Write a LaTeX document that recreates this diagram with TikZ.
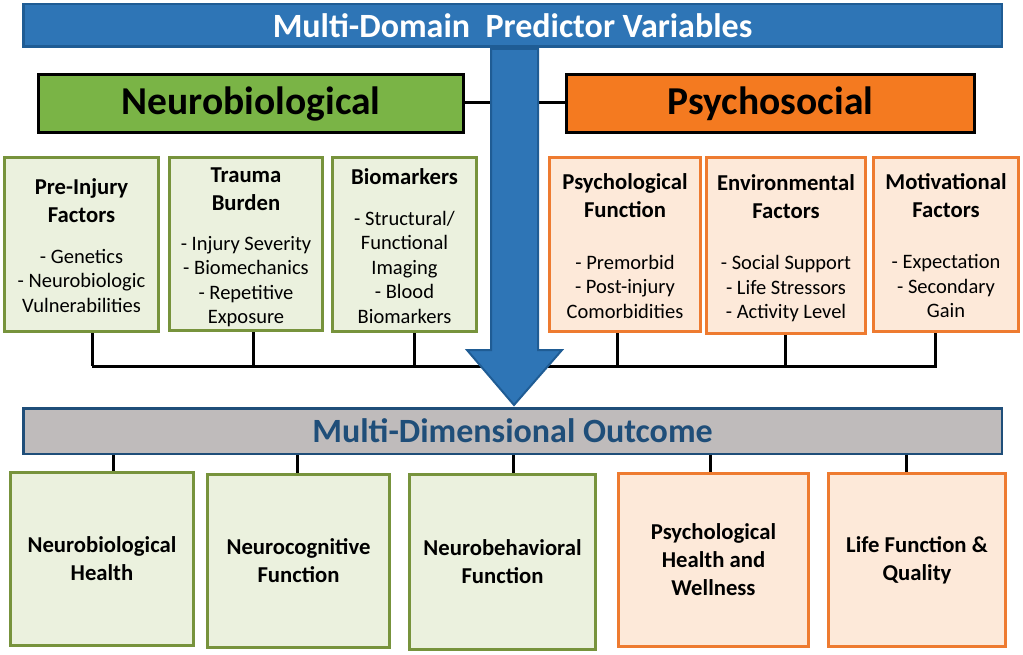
\documentclass[tikz,border=0pt]{standalone}
\usepackage{fontspec}
\setmainfont{Carlito}
\definecolor{bannerblue}{HTML}{2E75B6}
\definecolor{bannerdark}{HTML}{1F5C94}
\definecolor{neurogreen}{HTML}{7AB446}
\definecolor{psychorange}{HTML}{F47A20}
\definecolor{lightgreen}{HTML}{EBF1DE}
\definecolor{greenborder}{HTML}{77933C}
\definecolor{lightorange}{HTML}{FDE9D9}
\definecolor{orangeborder}{HTML}{EE7B30}
\definecolor{outgray}{HTML}{BFBBBB}
\definecolor{outblue}{HTML}{1F4E79}
\tikzset{
  bannerbox/.style={draw=bannerdark, line width=2.5pt, fill=bannerblue, text=white, inner sep=0pt, font=\bfseries\fontsize{34}{36}\selectfont},
  dombox/.style={draw=black, line width=3pt, text=black, inner sep=0pt, font=\bfseries\fontsize{39.5}{42}\selectfont},
  nsub/.style={draw=greenborder, line width=3pt, fill=lightgreen, inner sep=0pt},
  psub/.style={draw=orangeborder, line width=3pt, fill=lightorange, inner sep=0pt},
  subtext/.style={align=center, inner sep=0pt, font=\fontsize{20.5}{24.5}\selectfont},
  linkline/.style={draw=black, line width=3pt},
  outbar/.style={draw=outblue, line width=2.5pt, fill=outgray, text=outblue, inner sep=0pt, font=\bfseries\fontsize{34}{36}\selectfont},
  outbox/.style={align=center, line width=3pt, font=\bfseries\fontsize{22.7}{28}\selectfont},
}
\newcommand{\subttl}[1]{\fontsize{22.7}{24.5}\selectfont\bfseries #1}
\begin{document}
\begin{tikzpicture}[x=1pt,y=-1pt]
\useasboundingbox (0,0) rectangle (1023,655);
% banner
\node[bannerbox, minimum width=978.5pt, minimum height=42.5pt] (top) at (512.5,25.5) {Multi-Domain\ \ Predictor Variables};
% connector lines behind arrow
\draw[linkline] (92,366) -- (937,366);
\draw[linkline] (465,103) -- (565,103);
% domain boxes
\node[dombox, fill=neurogreen, minimum width=425pt, minimum height=58pt] (neuro) at (251,103.5) {Neurobiological};
\node[dombox, fill=psychorange, minimum width=408pt, minimum height=58pt] (psycho) at (770.5,103.5) {Psychosocial};
% arrow
\draw[draw=bannerdark, line width=2pt, fill=bannerblue, line join=miter]
  (491,49) -- (538,49) -- (538,350) -- (562,350) -- (514,405) -- (467,350) -- (491,350) -- cycle;
% neuro sub boxes
\node[nsub, minimum width=154pt, minimum height=174pt] (pre) at (81.5,244.5) {};
\node[subtext] (pretxt) at ([yshift=-4pt]pre.center)
  {\begin{tabular}{@{}c@{}}\subttl{Pre-Injury}\\[3.5pt]\subttl{Factors}\\[16.5pt]
   - Genetics\\- Neurobiologic\\Vulnerabilities\end{tabular}};
\node[nsub, minimum width=153pt, minimum height=173pt] (trauma) at (246,244) {};
\node[subtext] (traumatxt) at ([yshift=-4pt]trauma.center)
  {\begin{tabular}{@{}c@{}}\subttl{Trauma}\\[3.5pt]\subttl{Burden}\\[15.5pt]
   - Injury Severity\\- Biomechanics\\- Repetitive\\Exposure\end{tabular}};
\node[nsub, minimum width=144pt, minimum height=174pt] (bio) at (404.5,244.5) {};
\node[subtext] (biotxt) at ([yshift=-4.5pt]bio.center)
  {\begin{tabular}{@{}c@{}}\subttl{Biomarkers}\\[16.5pt]
   - Structural/\\Functional\\Imaging\\- Blood\\Biomarkers\end{tabular}};
% psycho sub boxes
\node[psub, minimum width=151pt, minimum height=174pt] (psyfun) at (625,244.5) {};
\node[subtext] (psyfuntxt) at ([yshift=-4.5pt]psyfun.center)
  {\begin{tabular}{@{}c@{}}\subttl{Psychological}\\[3pt]\subttl{Function}\\[27.5pt]
   - Premorbid\\- Post-injury\\Comorbidities\end{tabular}};
\node[psub, minimum width=159pt, minimum height=176pt] (env) at (786,245.5) {};
\node[subtext] (envtxt) at ([yshift=-4.5pt]env.center)
  {\begin{tabular}{@{}c@{}}\subttl{Environmental}\\[3.5pt]\subttl{Factors}\\[26.5pt]
   - Social Support\\- Life Stressors\\- Activity Level\end{tabular}};
\node[psub, minimum width=145pt, minimum height=174pt] (motiv) at (946,244.5) {};
\node[subtext] (motivtxt) at ([yshift=-4.5pt]motiv.center)
  {\begin{tabular}{@{}c@{}}\subttl{Motivational}\\[3.5pt]\subttl{Factors}\\[26.5pt]
   - Expectation\\- Secondary\\Gain\end{tabular}};
% bracket verticals
\coordinate (b1) at (92,366);
\coordinate (b2) at (253,366);
\coordinate (b3) at (414,366);
\coordinate (b4) at (617,366);
\coordinate (b5) at (785,366);
\coordinate (b6) at (935,366);
\draw[linkline] (pre.south -| b1) -- (b1);
\draw[linkline] (trauma.south -| b2) -- (b2);
\draw[linkline] (bio.south -| b3) -- (b3);
\draw[linkline] (psyfun.south -| b4) -- (b4);
\draw[linkline] (env.south -| b5) -- (b5);
\draw[linkline] (motiv.south -| b6) -- (b6);
% outcome bar
\node[outbar, minimum width=978.5pt, minimum height=45.5pt] (outcome) at (512.5,431) {Multi-Dimensional Outcome};
% outcome boxes
\node[outbox, draw=greenborder, fill=lightgreen, minimum width=183pt, minimum height=173pt] (o1) at (102,559) {Neurobiological\\Health};
\node[outbox, draw=greenborder, fill=lightgreen, minimum width=182pt, minimum height=173pt] (o2) at (298.5,561) {Neurocognitive\\Function};
\node[outbox, draw=greenborder, fill=lightgreen, minimum width=186pt, minimum height=175pt] (o3) at (502.5,562) {Neurobehavioral\\Function};
\node[outbox, draw=orangeborder, fill=lightorange, minimum width=190pt, minimum height=173pt] (o4) at (713.5,560) {Psychological\\Health and\\Wellness};
\node[outbox, draw=orangeborder, fill=lightorange, minimum width=177pt, minimum height=173pt] (o5) at (917,560) {Life Function \&\\Quality};
% outcome connectors
\coordinate (c1) at (113,0);
\coordinate (c2) at (297,0);
\coordinate (c3) at (513,0);
\coordinate (c4) at (710,0);
\coordinate (c5) at (906,0);
\draw[linkline] (outcome.south -| c1) -- (o1.north -| c1);
\draw[linkline] (outcome.south -| c2) -- (o2.north -| c2);
\draw[linkline] (outcome.south -| c3) -- (o3.north -| c3);
\draw[linkline] (outcome.south -| c4) -- (o4.north -| c4);
\draw[linkline] (outcome.south -| c5) -- (o5.north -| c5);
\end{tikzpicture}
\end{document}
